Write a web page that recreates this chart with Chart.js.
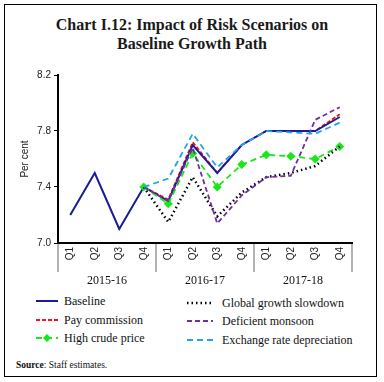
<!DOCTYPE html>
<html>
<head>
<meta charset="utf-8">
<script src="https://cdn.jsdelivr.net/npm/chart.js@4.4.1/dist/chart.umd.min.js"></script>
<style>
  html, body { margin:0; padding:0; background:#fff; }
  #root { position:relative; width:384px; height:382px; overflow:hidden; }
  #frame { position:absolute; left:4px; top:4px; width:371px; height:371px; border:1px solid #000; }
  #title { position:absolute; left:0; top:15px; width:384px; text-align:center; font-family:"Liberation Serif", serif; font-weight:bold; font-size:16px; line-height:19px; color:#1a1a1a; }
  #wrap { position:absolute; left:0; top:62px; width:370px; height:228px; }
  .lg { position:absolute; font-family:"Liberation Serif", serif; font-size:12px; color:#111; white-space:nowrap; line-height:14px; }
  .lg svg { position:absolute; top:3px; }
  #source { position:absolute; left:16px; top:360px; font-family:"Liberation Serif", serif; font-size:9.5px; color:#111; }
</style>
</head>
<body>
<div id="root">
  <div id="frame"></div>
  <div id="title">Chart I.12: Impact of Risk Scenarios on<br>Baseline Growth Path</div>
  <div id="wrap"><canvas id="c" width="370" height="228"></canvas></div>
  <div id="legend"></div>
  <div id="source"><b>Source</b>: Staff estimates.</div>
</div>
<script>
const categories = ['Q1','Q2','Q3','Q4','Q1','Q2','Q3','Q4','Q1','Q2','Q3','Q4'];
const years = ['2015-16','2016-17','2017-18'];
const yTicks = [7.0, 7.4, 7.8, 8.2];
const baseline         = [7.2, 7.5, 7.1, 7.4, 7.3, 7.7, 7.5, 7.7, 7.8, 7.8, 7.8, 7.9];
const payCommission    = [null, null, null, 7.4, 7.31, 7.72, 7.5, 7.7, 7.8, 7.8, 7.8, 7.92];
const highCrude        = [null, null, null, 7.4, 7.28, 7.64, 7.4, 7.56, 7.63, 7.62, 7.6, 7.69];
const globalSlowdown   = [null, null, null, 7.4, 7.15, 7.47, 7.19, 7.36, 7.47, 7.5, 7.55, 7.69];
const deficientMonsoon = [null, null, null, 7.4, 7.3, 7.68, 7.14, 7.34, 7.47, 7.48, 7.88, 7.97];
const exchangeRate     = [null, null, null, 7.4, 7.46, 7.78, 7.54, 7.7, 7.8, 7.79, 7.78, 7.86];

const series = [
  { label:'Exchange rate depreciation', data:exchangeRate, color:'#20a4ee', dash:[6,4], width:1.8 },
  { label:'Deficient monsoon', data:deficientMonsoon, color:'#7030a0', dash:[5,3], width:1.8 },
  { label:'Global growth slowdown', data:globalSlowdown, color:'#000000', dash:[1.5,3], width:2.5 },
  { label:'High crude price', data:highCrude, color:'#18e818', dash:[6,4], width:1.8, point:true },
  { label:'Baseline', data:baseline, color:'#1c1c96', dash:[], width:2 },
  { label:'Pay commission', data:payCommission, color:'#ff1010', dash:[4,2], width:1.8 }
];

const sepPlugin = {
  id:'sep',
  afterDraw(chart) {
    const ctx = chart.ctx, x = chart.scales.x, a = chart.chartArea;
    const xs = [a.left, (x.getPixelForValue(3)+x.getPixelForValue(4))/2, (x.getPixelForValue(7)+x.getPixelForValue(8))/2, a.right];
    ctx.save();
    ctx.strokeStyle = '#9a9a9a'; ctx.lineWidth = 1.5;
    xs.forEach(px => { ctx.beginPath(); ctx.moveTo(px, a.bottom+1); ctx.lineTo(px, a.bottom+29); ctx.stroke(); });
    ctx.fillStyle = '#111'; ctx.font = '12px "Liberation Serif", serif'; ctx.textAlign = 'center'; ctx.textBaseline = 'middle';
    years.forEach((yr, i) => {
      const cx = (x.getPixelForValue(i*4) + x.getPixelForValue(i*4+3))/2;
      ctx.fillText(yr, cx, a.bottom + 38);
    });
    ctx.restore();
  }
};

new Chart(document.getElementById('c'), {
  type:'line',
  data:{
    labels:categories,
    datasets: series.map(s => ({
      label:s.label, data:s.data, borderColor:s.color, backgroundColor:s.color,
      borderDash:s.dash, borderWidth:s.width, tension:0, spanGaps:false,
      pointStyle:'rectRot', pointRadius:s.point ? 4.5 : 0, pointHoverRadius:0,
      pointBorderWidth:0, fill:false
    }))
  },
  options:{
    responsive:false, animation:false, devicePixelRatio:1,
    layout:{ padding:{ top:13, right:18, left:0, bottom:0 } },
    plugins:{ legend:{ display:false }, tooltip:{ enabled:false } },
    scales:{
      x:{
        offset:true,
        grid:{ display:true, drawOnChartArea:false, drawTicks:false, color:'rgba(0,0,0,0)' },
        border:{ display:true, color:'#000', width:2 },
        ticks:{ minRotation:90, maxRotation:90, padding:4, color:'#222', font:{ family:'"Liberation Sans", sans-serif', size:10 } },
        afterFit(s){ s.height = 47; }
      },
      y:{
        min:7.0, max:8.2,
        afterBuildTicks(s){ s.ticks = yTicks.map(v => ({ value:v })); },
        grid:{ drawOnChartArea:false, drawTicks:true, tickLength:4, color:'#000' },
        border:{ display:true, color:'#000', width:2 },
        ticks:{ padding:3, color:'#222', font:{ family:'"Liberation Sans", sans-serif', size:10 }, callback:v => Number(v).toFixed(1) },
        title:{ display:true, text:'Per cent', color:'#222', font:{ family:'"Liberation Sans", sans-serif', size:10 }, padding:{ top:19, bottom:0 } },
        afterFit(s){ s.width = 58; }
      }
    }
  },
  plugins:[sepPlugin]
});

// HTML legend
const legendPos = {
  'Baseline':[36, 294], 'Pay commission':[36, 313], 'High crude price':[36, 331],
  'Global growth slowdown':[187, 296], 'Deficient monsoon':[187, 314], 'Exchange rate depreciation':[187, 333]
};
const lg = document.getElementById('legend');
series.forEach(s => {
  const [lx, ly] = legendPos[s.label];
  const left = lx < 100;
  const w = left ? 22 : 26;
  const d = document.createElement('div');
  d.className = 'lg';
  d.style.left = lx + 'px'; d.style.top = ly + 'px';
  d.style.paddingLeft = (left ? 28 : 35) + 'px';
  let svg = `<svg width="${w}" height="8" style="left:0"><line x1="0" y1="4" x2="${w}" y2="4" stroke="${s.color}" stroke-width="${s.width}" ${s.dash.length ? `stroke-dasharray="${s.dash.join(',')}"` : ''}/>`;
  if (s.point) svg += `<polygon points="${w/2},0 ${w/2+4},4 ${w/2},8 ${w/2-4},4" fill="${s.color}"/>`;
  svg += '</svg>';
  d.innerHTML = svg + s.label;
  lg.appendChild(d);
});
</script>
</body>
</html>
